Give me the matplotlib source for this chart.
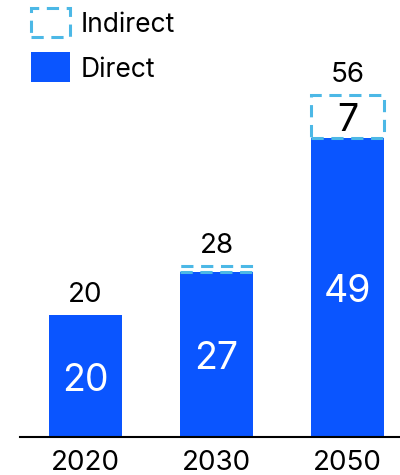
import matplotlib.pyplot as plt
from matplotlib.patches import Rectangle

plt.rcParams['font.family'] = ['Inter', 'DejaVu Sans']

years = ['2020', '2030', '2050']
direct = [20, 27, 49]
indirect = [0, 1, 7]
totals = [20, 28, 56]

blue = '#0A55FF'
light_blue = '#4CB8E6'
dash = (0, (4, 2.5))

fig = plt.figure(figsize=(4, 4.75), dpi=100)
ax = fig.add_axes([0.05, 0.08, 0.95, 0.92])

x = list(range(len(years)))
w = 0.557
ax.bar(x, direct, w, color=blue, zorder=2)
for i in x:
    if indirect[i] > 0:
        ax.bar(i, indirect[i], w, bottom=direct[i], facecolor='none',
               edgecolor=light_blue, linewidth=2.2, linestyle=dash, zorder=3)

for i in x:
    ax.annotate(str(direct[i]), (i, direct[i] / 2), xytext=(0, -3.5),
                textcoords='offset points', color='white', ha='center',
                va='center', fontsize=27)
    if indirect[i] >= 3:
        ax.annotate(str(indirect[i]), (i, direct[i] + indirect[i] / 2),
                    xytext=(0, -3), textcoords='offset points', color='black',
                    ha='center', va='center', fontsize=27)
    ax.annotate(str(totals[i]), (i, totals[i]), xytext=(0, 14.5),
                textcoords='offset points', ha='center', va='center', fontsize=20)

ax.set_xlim(-0.5, 2.4)
ax.set_ylim(0, 71.6)
ax.set_xticks(x)
ax.set_xticklabels(years, fontsize=20)
ax.tick_params(axis='x', length=0, pad=9)
ax.set_yticks([])
for s in ['top', 'right', 'left']:
    ax.spines[s].set_visible(False)
ax.spines['bottom'].set_linewidth(1.5)

# legend drawn by hand in figure coordinates
fig.patches.append(Rectangle((31 / 400, 1 - 37 / 475), 39 / 400, 29 / 475,
                             transform=fig.transFigure, facecolor='none',
                             edgecolor=light_blue, linewidth=2.2, linestyle=dash))
fig.patches.append(Rectangle((31 / 400, 1 - 82 / 475), 39 / 400, 30 / 475,
                             transform=fig.transFigure, facecolor=blue))
fig.text(81 / 400, 1 - 25 / 475, 'Indirect', fontsize=19, va='center')
fig.text(81 / 400, 1 - 70 / 475, 'Direct', fontsize=19, va='center')

fig.savefig('out.png', dpi=100)
